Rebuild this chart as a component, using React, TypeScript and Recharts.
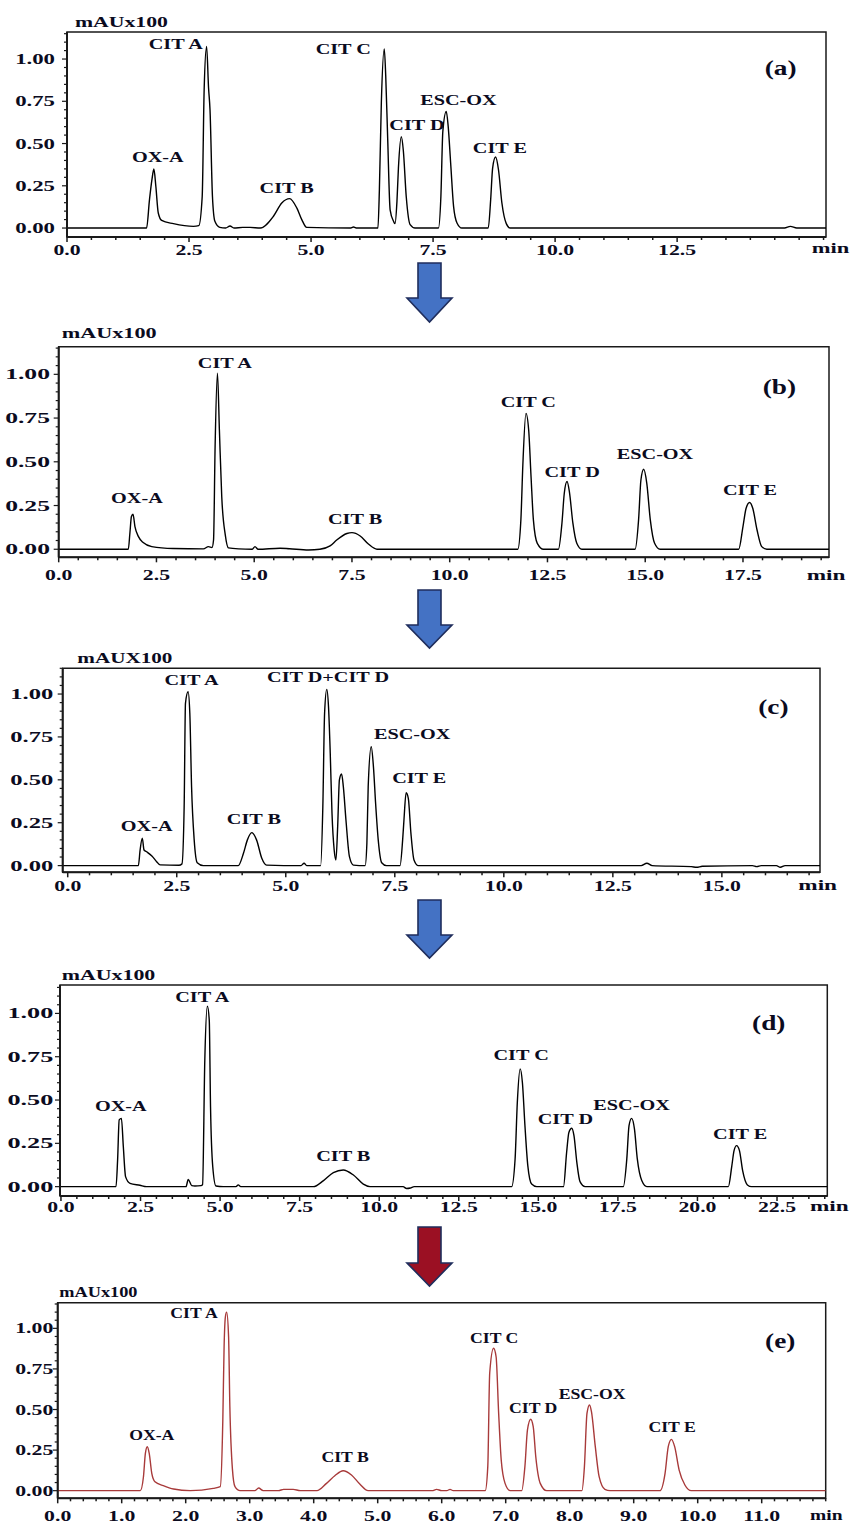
import { LineChart, Line, XAxis, YAxis, ReferenceArea, ReferenceDot } from 'recharts';

/* HPLC chromatograms (a)-(e): absorbance (mAU x100) against retention time (min) */

// [time (min), absorbance]
const traceA: [number, number][] = [
  [0, 0], [1.63, 0], [1.69, 0.168], [1.74, 0.286], [1.78, 0.349], [1.82, 0.247], [1.87, 0.089], [1.94, 0.045],
  [2.18, 0.026], [2.59, 0.01], [2.7, 0.014], [2.77, 0.187], [2.81, 0.82], [2.86, 1.075], [2.9, 0.83], [2.93, 0.7],
  [2.98, 0.187], [3.03, 0.04], [3.13, 0.004], [3.25, 0], [3.34, 0.012], [3.42, 0], [3.6, 0.004], [3.75, 0.004],
  [3.96, 0], [4.23, 0.07], [4.4, 0.148], [4.56, 0.174], [4.71, 0.118], [4.81, 0.05], [4.91, 0.004], [5.8, 0],
  [5.87, 0.006], [5.94, 0], [6.37, 0], [6.4, 0.227], [6.44, 0.74], [6.5, 1.06], [6.53, 0.9], [6.57, 0.53],
  [6.62, 0.108], [6.69, 0.04], [6.72, 0.026], [6.76, 0.158], [6.79, 0.355], [6.85, 0.54], [6.89, 0.46], [6.95, 0.187],
  [7.03, 0.02], [7.13, 0], [7.61, 0], [7.66, 0.187], [7.7, 0.572], [7.77, 0.69], [7.81, 0.6], [7.86, 0.385],
  [7.92, 0.128], [7.99, 0.03], [8.09, 0], [8.63, 0], [8.68, 0.168], [8.72, 0.355], [8.78, 0.42], [8.84, 0.345],
  [8.91, 0.148], [9.0, 0.026], [9.08, 0], [14.7, 0], [14.82, 0.01], [14.95, 0], [15.55, 0],
];

const traceB: [number, number][] = [
  [0, 0], [1.78, 0], [1.82, 0.09], [1.86, 0.187], [1.9, 0.2], [1.95, 0.13], [2.04, 0.072], [2.16, 0.038],
  [2.38, 0.015], [2.93, 0.004], [3.7, 0.002], [3.83, 0.015], [3.92, 0.01], [3.96, 0.053], [4.0, 0.587], [4.06, 1.006],
  [4.11, 0.68], [4.17, 0.3], [4.26, 0.082], [4.34, 0.008], [4.6, 0.002], [4.95, 0], [5.02, 0.015], [5.1, 0],
  [5.66, 0.006], [5.9, 0.003], [6.39, -0.004], [6.68, 0], [6.94, 0.019], [7.11, 0.053], [7.37, 0.09], [7.5, 0.095],
  [7.71, 0.076], [7.92, 0.03], [8.14, 0], [11.74, 0], [11.82, 0.168], [11.87, 0.48], [11.95, 0.777], [12.02, 0.68],
  [12.08, 0.415], [12.14, 0.168], [12.24, 0.034], [12.4, 0], [12.78, 0], [12.87, 0.149], [12.93, 0.32], [13.0, 0.387],
  [13.06, 0.33], [13.15, 0.149], [13.25, 0.034], [13.38, 0], [14.74, 0], [14.83, 0.168], [14.89, 0.396], [14.96, 0.457],
  [15.04, 0.377], [15.13, 0.168], [15.24, 0.034], [15.38, 0], [17.39, 0], [17.5, 0.13], [17.58, 0.234], [17.67, 0.267],
  [17.75, 0.234], [17.86, 0.11], [17.98, 0.015], [18.11, 0], [19.7, 0],
];

const traceC: [number, number][] = [
  [-0.115, 0], [1.62, 0], [1.66, 0.091], [1.71, 0.16], [1.75, 0.091], [1.8, 0.082], [1.93, 0.056], [2.04, 0.023],
  [2.12, 0.004], [2.55, 0.002], [2.62, 0.01], [2.67, 0.344], [2.7, 0.946], [2.76, 1.013], [2.8, 0.887], [2.84, 0.46],
  [2.9, 0.15], [2.97, 0.017], [3.11, 0], [3.91, 0], [4.03, 0.072], [4.12, 0.15], [4.22, 0.192], [4.33, 0.15],
  [4.45, 0.043], [4.56, 0.003], [5.35, 0], [5.42, 0.014], [5.48, 0], [5.8, 0], [5.85, 0.344], [5.89, 0.887],
  [5.94, 1.027], [5.98, 0.926], [6.02, 0.654], [6.06, 0.305], [6.11, 0.091], [6.15, 0.033], [6.19, 0.227], [6.23, 0.5],
  [6.28, 0.534], [6.32, 0.46], [6.38, 0.266], [6.46, 0.052], [6.55, 0.003], [6.82, 0], [6.86, 0.13], [6.89, 0.46],
  [6.96, 0.693], [7.01, 0.577], [7.06, 0.363], [7.12, 0.15], [7.2, 0.017], [7.31, 0], [7.62, 0], [7.68, 0.15],
  [7.71, 0.266], [7.76, 0.425], [7.81, 0.392], [7.87, 0.188], [7.94, 0.033], [8.04, 0], [13.15, 0], [13.28, 0.014],
  [13.4, 0], [14.3, -0.006], [14.42, -0.01], [14.55, -0.004], [15.7, 0], [15.8, -0.006], [15.9, 0], [16.25, 0],
  [16.34, -0.01], [16.45, 0], [17.25, 0],
];

const traceD: [number, number][] = [
  [-0.03, 0], [1.73, 0], [1.78, 0.154], [1.83, 0.385], [1.9, 0.394], [1.96, 0.23], [2.03, 0.058], [2.17, 0.019],
  [2.48, 0.008], [2.69, 0], [3.93, 0], [4.0, 0.042], [4.11, 0.006], [4.21, 0.004], [4.4, 0.006], [4.45, 0.012],
  [4.52, 0.73], [4.6, 1.042], [4.66, 0.96], [4.7, 0.46], [4.77, 0.115], [4.87, 0.004], [5.1, 0], [5.5, 0],
  [5.57, 0.01], [5.65, 0], [7.93, 0], [8.25, 0.035], [8.56, 0.081], [8.87, 0.096], [9.19, 0.067], [9.5, 0.015],
  [9.71, 0], [10.75, 0], [10.86, -0.011], [10.98, -0.008], [11.1, 0], [14.16, 0], [14.27, 0.16], [14.34, 0.487],
  [14.43, 0.68], [14.5, 0.6], [14.58, 0.35], [14.67, 0.12], [14.79, 0.015], [14.95, 0], [15.79, 0], [15.89, 0.2],
  [15.96, 0.313], [16.05, 0.337], [16.12, 0.294], [16.21, 0.14], [16.31, 0.029], [16.47, 0], [17.67, 0], [17.78, 0.16],
  [17.85, 0.352], [17.93, 0.394], [18.02, 0.333], [18.11, 0.16], [18.25, 0.035], [18.41, 0], [20.97, 0], [21.08, 0.12],
  [21.15, 0.208], [21.23, 0.237], [21.32, 0.208], [21.42, 0.092], [21.57, 0.01], [21.7, 0], [24.08, 0],
];

const traceE: [number, number][] = [
  [0, 0], [1.29, 0], [1.34, 0.086], [1.37, 0.23], [1.4, 0.271], [1.43, 0.23], [1.47, 0.107], [1.52, 0.055],
  [1.65, 0.031], [1.81, 0.01], [2.07, 0], [2.43, 0.014], [2.54, 0.025], [2.58, 0.435], [2.6, 0.887], [2.62, 1.07],
  [2.64, 1.1], [2.67, 0.95], [2.69, 0.517], [2.73, 0.133], [2.77, 0.025], [2.85, 0], [3.08, 0], [3.14, 0.016],
  [3.21, 0], [3.45, 0], [3.53, 0.008], [3.68, 0.008], [3.79, 0], [4.05, 0], [4.2, 0.045], [4.33, 0.092],
  [4.46, 0.123], [4.59, 0.097], [4.72, 0.041], [4.85, 0], [5.85, 0], [5.92, 0.008], [6.0, 0], [6.08, 0],
  [6.13, 0.008], [6.18, 0], [6.68, 0], [6.72, 0.148], [6.75, 0.723], [6.81, 0.877], [6.85, 0.825], [6.89, 0.476],
  [6.93, 0.189], [6.99, 0.045], [7.07, 0], [7.25, 0], [7.3, 0.148], [7.34, 0.374], [7.39, 0.44], [7.43, 0.394],
  [7.47, 0.209], [7.54, 0.045], [7.64, 0], [8.19, 0], [8.23, 0.148], [8.27, 0.476], [8.31, 0.528], [8.34, 0.487],
  [8.4, 0.271], [8.46, 0.086], [8.55, 0.008], [8.63, 0], [9.41, 0], [9.49, 0.107], [9.54, 0.271], [9.59, 0.316],
  [9.64, 0.271], [9.71, 0.127], [9.8, 0.035], [9.9, 0], [12, 0],
];

// peak names, placed at (time, absorbance) of the text baseline centre
const peaksA = [
  { name: 'OX-A', t: 1.86, v: 0.392 }, { name: 'CIT A', t: 2.23, v: 1.057 }, { name: 'CIT B', t: 4.5, v: 0.209 },
  { name: 'CIT C', t: 5.66, v: 1.03 }, { name: 'CIT D', t: 7.17, v: 0.58 }, { name: 'ESC-OX', t: 8.02, v: 0.728 },
  { name: 'CIT E', t: 8.87, v: 0.442 },
];
const peaksB = [
  { name: 'OX-A', t: 2.0, v: 0.263 }, { name: 'CIT A', t: 4.25, v: 1.038 }, { name: 'CIT B', t: 7.58, v: 0.145 },
  { name: 'CIT C', t: 12.01, v: 0.811 }, { name: 'CIT D', t: 13.13, v: 0.415 }, { name: 'ESC-OX', t: 15.25, v: 0.514 },
  { name: 'CIT E', t: 17.68, v: 0.31 },
];
const peaksC = [
  { name: 'OX-A', t: 1.81, v: 0.204 }, { name: 'CIT A', t: 2.84, v: 1.052 }, { name: 'CIT B', t: 4.27, v: 0.243 },
  { name: 'CIT D+CIT D', t: 5.97, v: 1.068 }, { name: 'ESC-OX', t: 7.9, v: 0.738 }, { name: 'CIT E', t: 8.06, v: 0.48 },
];
const peaksD = [
  { name: 'OX-A', t: 1.88, v: 0.438 }, { name: 'CIT A', t: 4.44, v: 1.067 }, { name: 'CIT B', t: 8.87, v: 0.15 },
  { name: 'CIT C', t: 14.46, v: 0.73 }, { name: 'CIT D', t: 15.85, v: 0.36 }, { name: 'ESC-OX', t: 17.93, v: 0.444 },
  { name: 'CIT E', t: 21.34, v: 0.275 },
];
const peaksE = [
  { name: 'OX-A', t: 1.47, v: 0.312 }, { name: 'CIT A', t: 2.13, v: 1.066 }, { name: 'CIT B', t: 4.49, v: 0.179 },
  { name: 'CIT C', t: 6.82, v: 0.908 }, { name: 'CIT D', t: 7.43, v: 0.48 }, { name: 'ESC-OX', t: 8.35, v: 0.565 },
  { name: 'CIT E', t: 9.6, v: 0.363 },
];

// labelled tick values
const xLabelsA = [0, 2.5, 5, 7.5, 10, 12.5];
const xLabelsB = [0, 2.5, 5, 7.5, 10, 12.5, 15, 17.5];
const xLabelsC = [0, 2.5, 5, 7.5, 10, 12.5, 15];
const xLabelsD = [0, 2.5, 5, 7.5, 10, 12.5, 15, 17.5, 20, 22.5];
const xLabelsE = [0, 1, 2, 3, 4, 5, 6, 7, 8, 9, 10, 11];
const yLabels = [0, 0.25, 0.5, 0.75, 1];

const FONT = '"Liberation Serif", "Times New Roman", serif';
const INK = '#0b0b1e';
const AXIS = '#1a1a1a';
const Y_W = 40;
const X_H = 30;

const steps = (from: number, to: number, step: number) => {
  const out: number[] = [];
  for (let i = 0; from + i * step <= to + 1e-9; i++) out.push(+(from + i * step).toFixed(3));
  return out;
};
const isIn = (list: number[], v: number) => list.some((l) => Math.abs(l - v) < 1e-6);

function Wide({ x, y, text, size = 15, sx = 1.4, anchor = 'middle' }: any) {
  return (
    <text
      transform={`translate(${x} ${y}) scale(${sx} 1)`}
      textAnchor={anchor}
      fontFamily={FONT}
      fontWeight="bold"
      fontSize={size}
      fill={INK}
    >
      {text}
    </text>
  );
}

const panels = [
  {
    letter: '(a)', letterAt: { t: 14.62, v: 0.905 }, trace: traceA, peaks: peaksA, xLabels: xLabelsA,
    xDomain: [0, 15.55], yDomain: [-0.053, 1.16], xTickMax: 15.5, xStep: 0.5, color: '#000',
    top: 0, height: 262, box: [67, 32, 826, 237], xOff: 17.5, ySx: 1.52, yGap: 12, peakSx: 1.35,
  },
  {
    letter: '(b)', letterAt: { t: 18.43, v: 0.888 }, trace: traceB, peaks: peaksB, xLabels: xLabelsB,
    xDomain: [0, 19.7], yDomain: [-0.046, 1.158], xTickMax: 19.5, xStep: 0.5, color: '#000',
    top: 322, height: 268, box: [58.7, 346.7, 829, 557.3], xOff: 23, ySx: 1.71, yGap: 8.7, peakSx: 1.35,
  },
  {
    letter: '(c)', letterAt: { t: 16.18, v: 0.884 }, trace: traceC, peaks: peaksC, xLabels: xLabelsC,
    xDomain: [-0.115, 17.25], yDomain: [-0.039, 1.15], xTickMax: 17, xStep: 0.5, color: '#000',
    top: 648, height: 252, box: [62.7, 668.3, 820, 872.3], xOff: 19, ySx: 1.64, yGap: 9.4, peakSx: 1.35,
  },
  {
    letter: '(d)', letterAt: { t: 22.24, v: 0.906 }, trace: traceD, peaks: peaksD, xLabels: xLabelsD,
    xDomain: [-0.03, 24.08], yDomain: [-0.054, 1.164], xTickMax: 24, xStep: 0.5, color: '#000',
    top: 960, height: 260, box: [60, 985, 827.3, 1196], xOff: 16, ySx: 1.75, yGap: 6.7, peakSx: 1.35,
  },
  {
    letter: '(e)', letterAt: { t: 11.29, v: 0.877 }, trace: traceE, peaks: peaksE, xLabels: xLabelsE,
    xDomain: [0, 12], yDomain: [-0.047, 1.158], xTickMax: 12, xStep: 0.2, color: '#a83a3a',
    top: 1286, height: 238, box: [57.7, 1302.7, 825.7, 1498.3], xOff: 23, ySx: 1.45, yGap: 4.4, peakSx: 1.18,
  },
];

type Panel = (typeof panels)[number];

function Chromatogram({ p }: { p: Panel }) {
  const [l, t, r, b] = p.box;
  const rows = p.trace.map(([time, abs]) => ({ time, abs }));

  const xTick = (props: any) => {
    const { x, y, payload } = props;
    const major = isIn(p.xLabels, payload.value);
    return (
      <g>
        <line x1={x} x2={x} y1={y} y2={y + (major ? 5 : 3)} stroke={AXIS} strokeWidth={1.5} />
        {major && <Wide x={x} y={y + p.xOff} text={payload.value.toFixed(1)} sx={1.45} />}
      </g>
    );
  };

  const yTick = (props: any) => {
    const { x, y, payload } = props;
    const major = isIn(yLabels, payload.value);
    return (
      <g>
        <line x1={x} x2={x - (major ? 5 : 3)} y1={y} y2={y} stroke={AXIS} strokeWidth={1.2} />
        {major && (
          <Wide x={x - p.yGap} y={y + 5} text={payload.value.toFixed(2)} sx={p.ySx} anchor="end" />
        )}
      </g>
    );
  };

  return (
    <div style={{ position: 'absolute', left: 0, top: p.top }}>
      <LineChart
        width={853}
        height={p.height}
        data={rows}
        margin={{ top: t - p.top, left: l - Y_W, right: 853 - r, bottom: p.top + p.height - b - X_H }}
      >
        <XAxis
          dataKey="time"
          type="number"
          domain={p.xDomain}
          allowDataOverflow
          ticks={steps(0, p.xTickMax, p.xStep)}
          interval={0}
          height={X_H}
          tickSize={0}
          tickMargin={0}
          tickLine={false}
          tick={xTick}
          axisLine={{ stroke: AXIS, strokeWidth: 2 }}
        />
        <YAxis
          type="number"
          domain={p.yDomain}
          allowDataOverflow
          ticks={steps(0, 1.15, 0.05)}
          interval={0}
          width={Y_W}
          tickSize={0}
          tickMargin={0}
          tickLine={false}
          tick={yTick}
          axisLine={{ stroke: AXIS, strokeWidth: 2 }}
        />
        <ReferenceArea
          x1={p.xDomain[0]}
          x2={p.xDomain[1]}
          y1={p.yDomain[0]}
          y2={p.yDomain[1]}
          fill="none"
          fillOpacity={0}
          stroke={AXIS}
          strokeWidth={1.5}
          ifOverflow="visible"
        />
        <Line
          type="monotone"
          dataKey="abs"
          stroke={p.color}
          strokeWidth={1.4}
          dot={false}
          isAnimationActive={false}
        />
        {p.peaks.map((pk) => (
          <ReferenceDot
            key={pk.name}
            x={pk.t}
            y={pk.v}
            r={0}
            ifOverflow="visible"
            shape={(s: any) => <Wide x={s.cx} y={s.cy} text={pk.name} sx={p.peakSx} />}
          />
        ))}
        <ReferenceDot
          x={p.letterAt.t}
          y={p.letterAt.v}
          r={0}
          ifOverflow="visible"
          shape={(s: any) => <Wide x={s.cx} y={s.cy} text={p.letter} size={21} sx={1.3} />}
        />
      </LineChart>
    </div>
  );
}

// axis titles and the arrows between panels (page coordinates)
const unitTitles = [
  { text: 'mAUx100', x: 75, y: 26.7, sx: 1.45 },
  { text: 'mAUx100', x: 61.7, y: 338.3, sx: 1.48 },
  { text: 'mAUX100', x: 77.3, y: 663.3, sx: 1.41 },
  { text: 'mAUx100', x: 61.7, y: 980, sx: 1.46 },
  { text: 'mAUx100', x: 59.3, y: 1296.7, sx: 1.22 },
];
const minTitles = [
  { x: 811.7, y: 253, sx: 1.5 },
  { x: 806.7, y: 580, sx: 1.55 },
  { x: 798.3, y: 890, sx: 1.55 },
  { x: 810, y: 1211, sx: 1.55 },
  { x: 810, y: 1520, sx: 1.3 },
];
const arrows = [
  { top: 263, neck: 298, tip: 322, fill: '#4472c4' },
  { top: 590, neck: 625, tip: 648, fill: '#4472c4' },
  { top: 900, neck: 935, tip: 958, fill: '#4472c4' },
  { top: 1227, neck: 1263, tip: 1286, fill: '#9b1023' },
];

function Overlay() {
  return (
    <svg width={853} height={1524} style={{ position: 'absolute', left: 0, top: 0, pointerEvents: 'none' }}>
      {unitTitles.map((u, i) => (
        <Wide key={i} x={u.x} y={u.y} text={u.text} sx={u.sx} anchor="start" />
      ))}
      {minTitles.map((m, i) => (
        <Wide key={i} x={m.x} y={m.y} text="min" sx={m.sx} anchor="start" />
      ))}
      {arrows.map((a, i) => (
        <polygon
          key={i}
          points={`418,${a.top} 441,${a.top} 441,${a.neck} 452,${a.neck} 429.5,${a.tip} 407,${a.neck} 418,${a.neck}`}
          fill={a.fill}
          stroke="#1f2d5c"
          strokeWidth={1.6}
          strokeLinejoin="miter"
        />
      ))}
    </svg>
  );
}

export default function App() {
  return (
    <div style={{ position: 'absolute', left: 0, top: 0, width: 853, height: 1524, background: '#fff' }}>
      {panels.map((p) => (
        <Chromatogram key={p.letter} p={p} />
      ))}
      <Overlay />
    </div>
  );
}
